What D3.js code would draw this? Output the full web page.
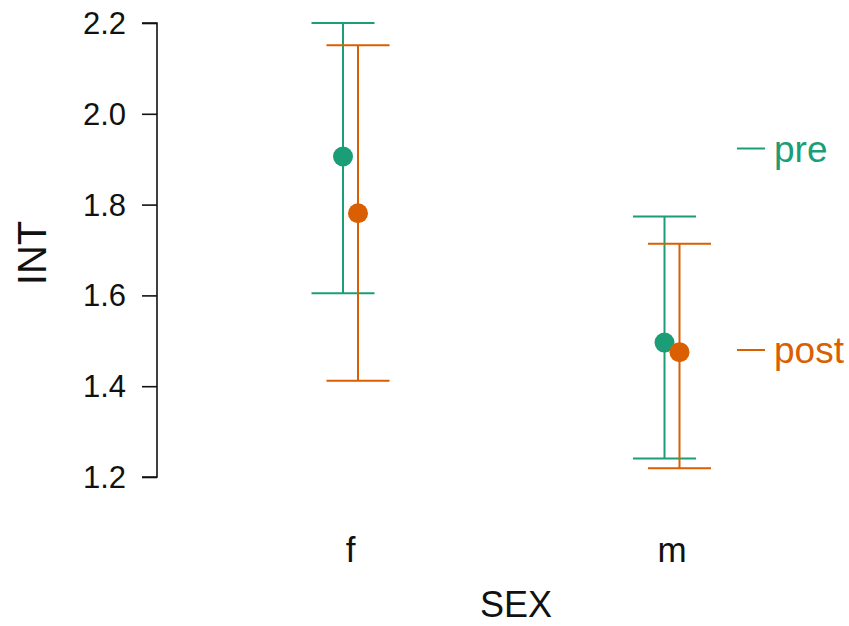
<!DOCTYPE html>
<html>
<head>
<meta charset="utf-8">
<script src="https://cdn.jsdelivr.net/npm/d3@7"></script>
<style>
  html, body { margin: 0; padding: 0; background: #fff; }
  svg { display: block; font-family: "Liberation Sans", Arial, sans-serif; }
</style>
</head>
<body>
<svg id="chart" width="849" height="626"></svg>
<script>
// Group means with interval bounds of INT by SEX, split by time point
const categories = ["f", "m"];
const seriesNames = ["pre", "post"];
const seriesColors = ["#1b9e77", "#d95f02"];
const preMean  = [1.906, 1.496];
const preLower = [1.605, 1.241];
const preUpper = [2.200, 1.774];
const postMean  = [1.781, 1.475];
const postLower = [1.412, 1.219];
const postUpper = [2.151, 1.714];
const yTicks = [1.2, 1.4, 1.6, 1.8, 2.0, 2.2];

const series = [
  { name: seriesNames[0], color: seriesColors[0], mean: preMean,  lower: preLower,  upper: preUpper },
  { name: seriesNames[1], color: seriesColors[1], mean: postMean, lower: postLower, upper: postUpper }
];

const svg = d3.select("#chart");

const y = d3.scaleLinear().domain([1.2, 2.2]).range([477, 23]);
const x = d3.scalePoint().domain(categories).range([350.5, 672]);
const dodge = d3.scalePoint().domain(seriesNames).range([-7.5, 7.5]);
const capHalf = 31.5;

// y axis
const yAxis = d3.axisLeft(y)
  .tickValues(yTicks)
  .tickFormat(d3.format(".1f"))
  .tickSize(15)
  .tickSizeOuter(0)
  .tickPadding(16);
const gy = svg.append("g").attr("transform", "translate(157,0)").call(yAxis);
gy.selectAll("path, line").attr("stroke", "#111").attr("stroke-width", 1.6);
gy.select(".domain").attr("d", `M-15,${y(2.2)}H0V${y(1.2)}H-15`);
gy.selectAll("text").attr("font-size", 31).attr("fill", "#111")
  .attr("font-family", "Liberation Sans, Arial, sans-serif").attr("dy", "0.34em");

// category labels
svg.append("g").selectAll("text").data(categories).join("text")
  .attr("x", d => x(d))
  .attr("y", 562)
  .attr("text-anchor", "middle")
  .attr("font-size", 35)
  .attr("fill", "#111")
  .text(d => d);

// axis titles
svg.append("text")
  .attr("x", 516).attr("y", 617)
  .attr("text-anchor", "middle")
  .attr("font-size", 36).attr("fill", "#111")
  .text("SEX");
svg.append("text")
  .attr("transform", "translate(46,253) rotate(-90)")
  .attr("text-anchor", "middle")
  .attr("font-size", 40).attr("fill", "#111")
  .text("INT");

// error bars and points
series.forEach(s => {
  const g = svg.append("g").attr("stroke", s.color).attr("fill", s.color);
  const cx = (i) => x(categories[i]) + dodge(s.name);
  categories.forEach((c, i) => {
    g.append("line")
      .attr("x1", cx(i)).attr("x2", cx(i))
      .attr("y1", y(s.upper[i])).attr("y2", y(s.lower[i]))
      .attr("stroke-width", 2);
    [s.upper[i], s.lower[i]].forEach(v => {
      g.append("line")
        .attr("x1", cx(i) - capHalf).attr("x2", cx(i) + capHalf)
        .attr("y1", y(v)).attr("y2", y(v))
        .attr("stroke-width", 2);
    });
  });
  g.selectAll("circle").data(s.mean).join("circle")
    .attr("cx", (d, i) => cx(i))
    .attr("cy", d => y(d))
    .attr("r", 10)
    .attr("stroke", "none");
});

// legend
const legendY = [148.5, 350];
series.forEach((s, i) => {
  const lg = svg.append("g").attr("transform", `translate(737,${legendY[i]})`);
  lg.append("line").attr("x1", 0).attr("x2", 28).attr("y1", 0).attr("y2", 0)
    .attr("stroke", s.color).attr("stroke-width", 2);
  lg.append("text").attr("x", 37).attr("y", 0).attr("dy", "0.36em")
    .attr("font-size", 37).attr("fill", s.color).text(s.name);
});
</script>
</body>
</html>
